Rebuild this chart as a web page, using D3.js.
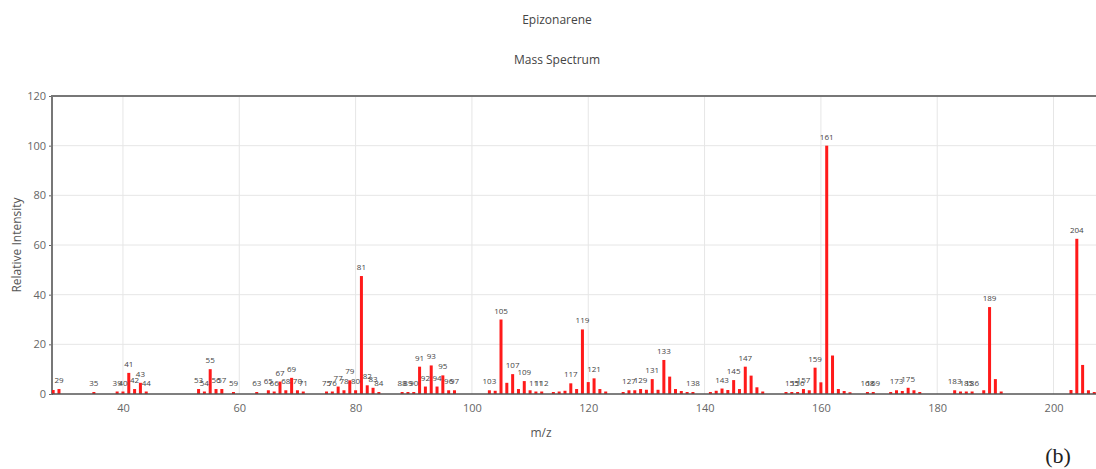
<!doctype html>
<html lang="en">
  <head>
    <meta charset="utf-8">
    <script src="https://d3js.org/d3.v7.min.js"></script>
    <title>Epizonarene - Mass Spectrum</title>
    <style>
      body { margin: 0; background: #fff; }
      text { font-family: "Open Sans", "Noto Sans", sans-serif; }
    </style>
  </head>
  <body>
    <div id="chart"></div>
    <script type="text/javascript">

      // m/z values and relative intensities
      const mzValues = [28, 29, 35, 39, 40, 41, 42, 43, 44, 53, 54, 55, 56, 57, 59,
        63, 65, 66, 67, 68, 69, 70, 71, 75, 76, 77, 78, 79, 80, 81, 82, 83, 84,
        88, 89, 90, 91, 92, 93, 94, 95, 96, 97, 103, 104, 105, 106, 107, 108, 109,
        110, 111, 112, 114, 115, 116, 117, 118, 119, 120, 121, 122, 123, 126, 127,
        128, 129, 130, 131, 132, 133, 134, 135, 136, 137, 138, 141, 142, 143, 144,
        145, 146, 147, 148, 149, 150, 154, 155, 156, 157, 158, 159, 160, 161, 162,
        163, 164, 165, 168, 169, 172, 173, 174, 175, 176, 177, 183, 184, 185, 186,
        188, 189, 190, 191, 203, 204, 205, 206, 207];
      const intensities = [1.6, 2, 0.8, 1, 1, 8.5, 2, 4.5, 1, 2, 1, 10, 2, 2, 0.8,
        0.8, 1.5, 1, 5, 1.5, 6.5, 1.5, 1, 1, 1, 3, 1.5, 5.5, 1.5, 47.5, 3.5, 2.5, 0.8,
        0.8, 0.8, 0.8, 11, 3, 11.5, 3, 7.5, 1.5, 1.5, 1.5, 1.3, 30, 4.5, 8, 2, 5.2,
        1.5, 1, 1, 0.8, 1, 1.3, 4.3, 2, 26, 4.8, 6.3, 2, 1, 0.8, 1.5,
        1.5, 2, 1.7, 6, 1.7, 13.7, 7, 2, 1.2, 0.8, 0.8, 0.8, 1.3, 2.2, 1.6,
        5.6, 2, 11, 7.4, 2.7, 1, 0.8, 0.8, 0.8, 2, 1.5, 10.6, 4.7, 100, 15.5,
        2, 1.2, 0.7, 0.8, 0.8, 0.8, 1.5, 1.2, 2.5, 1.5, 0.8, 1.5, 1, 1, 1,
        1.5, 35, 6, 1, 1.6, 62.5, 11.7, 1.5, 0.8];

      // peaks that carry an m/z label
      const labelledMz = [29, 35, 39, 40, 41, 42, 43, 44, 53, 54, 55, 56, 57, 59, 63,
        65, 66, 67, 68, 69, 70, 71, 75, 76, 77, 78, 79, 80, 81, 82, 83, 84, 88, 89,
        90, 91, 92, 93, 94, 95, 96, 97, 103, 105, 107, 109, 111, 112, 117, 119, 121,
        127, 129, 131, 133, 138, 143, 145, 147, 155, 156, 157, 159, 161, 168, 169,
        173, 175, 183, 185, 186, 189, 204];

      const xTicks = [40, 60, 80, 100, 120, 140, 160, 180, 200];
      const yTicks = [0, 20, 40, 60, 80, 100, 120];
      const xDomain = [27.8, 207.3];
      const yDomain = [0, 120];

      const peaks = mzValues.map((m, i) => ({ mz: m, val: intensities[i] }));

      const width = 1096, height = 469;
      const plotLeft = 52, plotRight = 1096, plotTop = 96, plotBottom = 394;

      const svg = d3.select("#chart").append("svg")
        .attr("width", width)
        .attr("height", height);

      const x = d3.scaleLinear().domain(xDomain).range([plotLeft, plotRight]);
      const y = d3.scaleLinear().domain(yDomain).range([plotBottom, plotTop]);

      // grid
      svg.append("g")
        .selectAll("line")
        .data(xTicks)
        .enter().append("line")
          .attr("x1", d => x(d)).attr("x2", d => x(d))
          .attr("y1", plotTop).attr("y2", plotBottom)
          .attr("stroke", "#e6e6e6").attr("stroke-width", 1);
      svg.append("g")
        .selectAll("line")
        .data(yTicks.filter(d => d > 0))
        .enter().append("line")
          .attr("x1", plotLeft).attr("x2", plotRight)
          .attr("y1", d => y(d)).attr("y2", d => y(d))
          .attr("stroke", "#e6e6e6").attr("stroke-width", 1);

      // axes
      const xAxis = svg.append("g")
        .attr("transform", "translate(0," + plotBottom + ")")
        .call(d3.axisBottom(x).tickValues(xTicks).tickSize(0).tickPadding(10));
      const yAxis = svg.append("g")
        .attr("transform", "translate(" + plotLeft + ",0)")
        .call(d3.axisLeft(y).tickValues(yTicks).tickSize(3).tickPadding(3));

      [xAxis, yAxis].forEach(g => {
        g.select(".domain").remove();
        g.selectAll("text").attr("fill", "#666").style("font-size", "11px")
          .style("font-family", '"Open Sans", sans-serif');
        g.selectAll("line").attr("stroke", "#666");
      });

      // frame lines
      svg.append("line")
        .attr("x1", plotLeft).attr("x2", plotRight).attr("y1", plotTop).attr("y2", plotTop)
        .attr("stroke", "#777").attr("stroke-width", 2);
      svg.append("line")
        .attr("x1", plotLeft).attr("x2", plotLeft).attr("y1", plotTop - 1).attr("y2", plotBottom + 1)
        .attr("stroke", "#777").attr("stroke-width", 2);

      // bars
      svg.append("defs").append("clipPath").attr("id", "plot")
        .append("rect").attr("x", plotLeft).attr("y", plotTop - 20)
        .attr("width", plotRight - plotLeft).attr("height", plotBottom - plotTop + 20);

      const plot = svg.append("g").attr("clip-path", "url(#plot)");
      plot.selectAll("rect")
        .data(peaks)
        .enter().append("rect")
          .attr("x", d => x(d.mz) - 1.5)
          .attr("width", 3)
          .attr("y", d => y(d.val))
          .attr("height", d => y(0) - y(d.val))
          .attr("fill", "#ff1a1a");

      // peak labels
      plot.selectAll("text")
        .data(peaks.filter(d => labelledMz.includes(d.mz)))
        .enter().append("text")
          .attr("x", d => x(d.mz))
          .attr("y", d => y(d.val) - 6)
          .attr("text-anchor", "middle")
          .attr("fill", "#444")
          .style("font-size", "8px")
          .text(d => d.mz);

      // bottom axis line
      svg.append("line")
        .attr("x1", plotLeft).attr("x2", plotRight).attr("y1", plotBottom).attr("y2", plotBottom)
        .attr("stroke", "#555").attr("stroke-width", 1.5);

      // titles
      svg.append("text")
        .attr("x", 557).attr("y", 24)
        .attr("text-anchor", "middle").attr("fill", "#444")
        .style("font-size", "12px")
        .text("Epizonarene");
      svg.append("text")
        .attr("x", 557).attr("y", 64)
        .attr("text-anchor", "middle").attr("fill", "#444")
        .style("font-size", "12px")
        .text("Mass Spectrum");

      svg.append("text")
        .attr("x", 541).attr("y", 437)
        .attr("text-anchor", "middle").attr("fill", "#555")
        .style("font-size", "12px")
        .text("m/z");
      svg.append("text")
        .attr("transform", "translate(21," + ((plotTop + plotBottom) / 2) + ") rotate(-90)")
        .attr("text-anchor", "middle").attr("fill", "#555")
        .style("font-size", "12px")
        .text("Relative Intensity");

      svg.append("text")
        .attr("x", 1058).attr("y", 463)
        .attr("text-anchor", "middle").attr("fill", "#222")
        .style("font-family", '"Liberation Serif", "DejaVu Serif", serif')
        .style("font-size", "22px")
        .text("(b)");
    </script>
  </body>
</html>
